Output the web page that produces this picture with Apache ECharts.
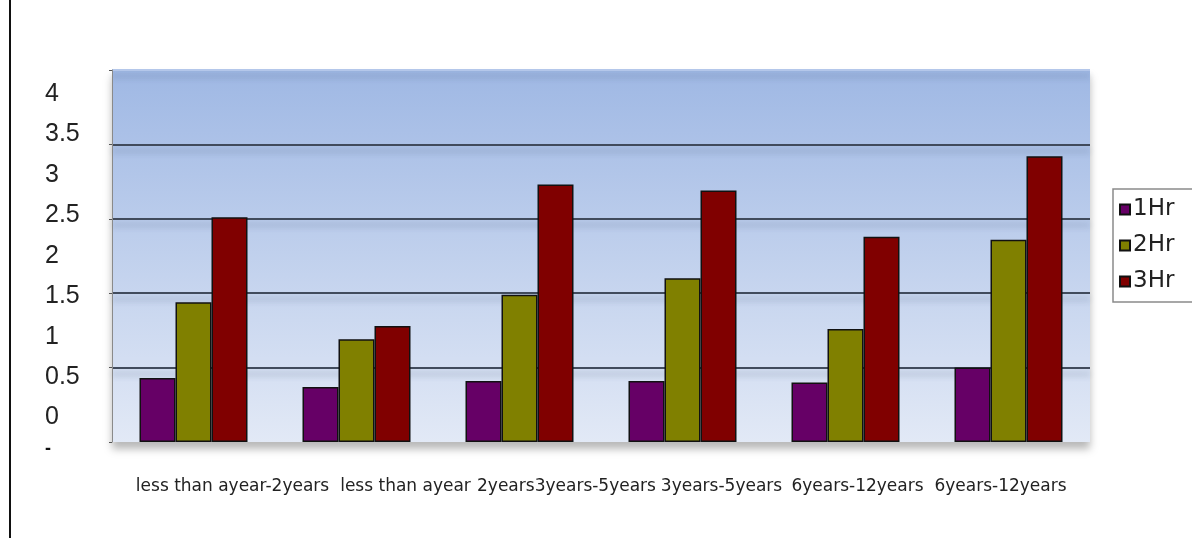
<!DOCTYPE html>
<html>
<head>
<meta charset="utf-8">
<script src="https://cdn.jsdelivr.net/npm/echarts@6/dist/echarts.min.js"></script>
<style>
  html, body { margin: 0; padding: 0; background: #fff; }
  #main { width: 1192px; height: 538px; }
</style>
</head>
<body>
<div id="main"></div>
<script>
// categories as printed under the groups
const categories = [
  "less than ayear-2years",
  "less than ayear",
  "2years3years-5years",
  "3years-5years",
  "6years-12years",
  "6years-12years"
];
const seriesNames = ["1Hr", "2Hr", "3Hr"];
const hr1 = [0.43, 0.37, 0.41, 0.41, 0.40, 0.50];
const hr2 = [0.94, 0.69, 0.99, 1.10, 0.76, 1.36];
const hr3 = [1.51, 0.78, 1.73, 1.69, 1.38, 1.92];
// the printed y labels (they don't line up with the gridlines in the source)
const yLabelMin = -0.5;
const yLabelMax = 4;

const colors = ["#660066", "#808000", "#800000"];
// label nudges so the text sits where the original had it
const labelNudge = [39, 49, 47, 39, 12, -8];

const chart = echarts.init(document.getElementById("main"));

const catData = categories.map((c, i) => {
  const n = labelNudge[i];
  return {
    value: c,
    textStyle: { padding: n >= 0 ? [0, 0, 0, 2 * n] : [0, -2 * n, 0, 0] }
  };
});

const barSeries = [hr1, hr2, hr3].map((vals, i) => ({
  name: seriesNames[i],
  type: "bar",
  xAxisIndex: 0,
  yAxisIndex: 0,
  barWidth: 36,
  barGap: "0%",
  itemStyle: { color: colors[i], borderColor: "#111", borderWidth: 1.5 },
  data: vals
}));

const gridLineColor = "#414b5c";

chart.setOption({
  animation: false,
  textStyle: { fontFamily: "Liberation Sans, Arial, sans-serif" },
  grid: [
    {
      left: 112, right: 102, top: 70, bottom: 96,
      show: true,
      borderWidth: 0,
      backgroundColor: new echarts.graphic.LinearGradient(0, 0, 0, 1, [
        { offset: 0, color: "#9fb8e4" },
        { offset: 1, color: "#e2e9f6" }
      ]),
      shadowColor: "rgba(0,0,0,0.28)",
      shadowBlur: 8,
      shadowOffsetY: 7
    },
    { left: 45, width: 10, top: 94, bottom: 80 }
  ],
  legend: {
    orient: "vertical",
    left: 1113,
    top: 189,
    data: seriesNames,
    icon: "rect",
    itemWidth: 10,
    itemHeight: 10,
    itemGap: 13,
    padding: [9, 30, 9, 6],
    borderColor: "#8a8a8a",
    borderWidth: 1.5,
    textStyle: {
      fontFamily: "DejaVu Sans, sans-serif",
      fontSize: 23,
      color: "#222",
      padding: [0, 0, 0, -2]
    }
  },
  xAxis: [
    {
      type: "category",
      gridIndex: 0,
      data: catData,
      axisLine: { show: false },
      axisTick: { show: false },
      axisLabel: {
        interval: 0,
        margin: 36,
        fontFamily: "DejaVu Sans, sans-serif",
        fontSize: 17,
        color: "#222"
      }
    },
    { type: "value", gridIndex: 1, show: false }
  ],
  yAxis: [
    {
      type: "value",
      gridIndex: 0,
      min: 0,
      max: 2.5,
      interval: 0.5,
      axisLabel: { show: false },
      axisLine: { show: true, lineStyle: { color: "#8a8a8a", width: 1 } },
      axisTick: { show: true, length: 3, lineStyle: { color: "#555" } },
      splitLine: {
        show: true,
        lineStyle: {
          color: ["transparent", gridLineColor, gridLineColor, gridLineColor, gridLineColor, "#b4c7ea"],
          width: 2,
          shadowColor: "rgba(50,70,100,0.35)",
          shadowBlur: 6,
          shadowOffsetY: 6
        }
      }
    },
    {
      type: "value",
      gridIndex: 1,
      min: yLabelMin,
      max: yLabelMax,
      interval: 0.5,
      axisLine: { show: false },
      axisTick: { show: false },
      splitLine: { show: false },
      axisLabel: {
        inside: true,
        margin: 0,
        fontSize: 25,
        color: "#222",
        formatter: v => (v < 0 ? "{d|-}" : String(v)),
        rich: { d: { fontSize: 18, fontWeight: "bold", color: "#111", padding: [0, 0, 18, 0] } }
      }
    }
  ],
  graphic: [
    {
      type: "line",
      shape: { x1: 10, y1: 0, x2: 10, y2: 538 },
      style: { stroke: "#111", lineWidth: 2 }
    }
  ],
  series: barSeries
});
</script>
</body>
</html>
